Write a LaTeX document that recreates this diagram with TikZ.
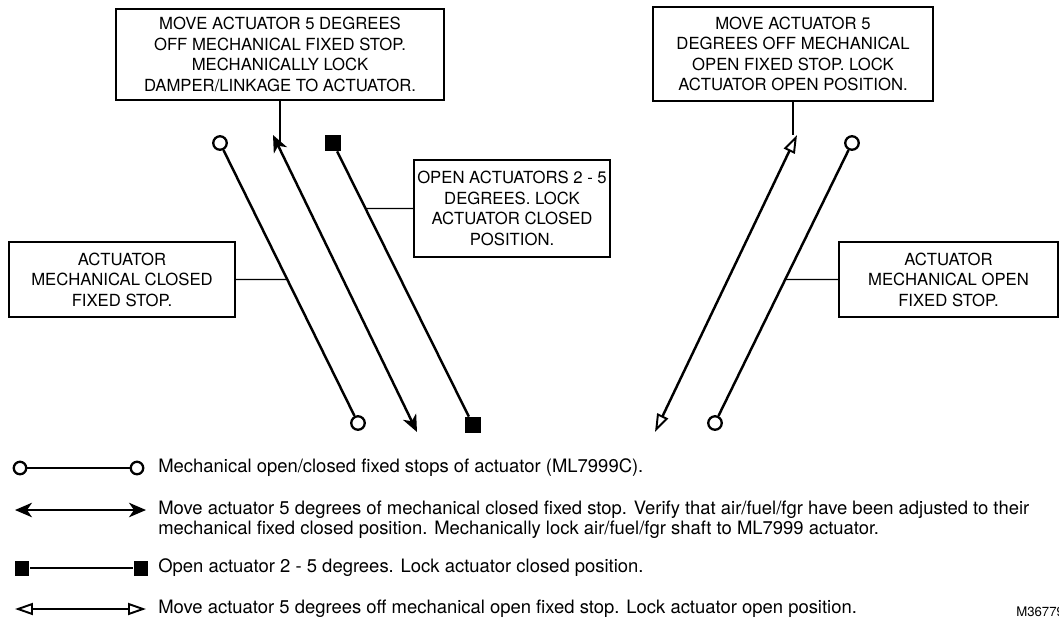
\documentclass[tikz,border=0pt]{standalone}
\usepackage{fontspec}
\setmainfont{TeX Gyre Heros}
\usetikzlibrary{arrows.meta}
\tikzset{
  note/.style={draw,line width=1.1pt,align=center,inner sep=2pt,font=\fontsize{9.5}{11.7}\selectfont},
  leader/.style={line width=0.6pt},
  stroke/.style={line width=1.4pt},
  thinstroke/.style={line width=1.1pt},
  stopc/.style={circle,draw,line width=1.3pt,fill=white,minimum size=0.27cm,inner sep=0pt},
  stops/.style={rectangle,fill=black,minimum size=0.32cm,inner sep=0pt},
  legtext/.style={anchor=west,align=left,inner sep=0pt,font=\fontsize{10.5}{11.4}\selectfont},
  fullhead/.tip={Stealth[length=0.34cm,width=0.29cm,inset=0.1cm]},
  openhead/.tip={Triangle[open,length=0.36cm,width=0.24cm,line width=1.1pt]}
}
\begin{document}
\begin{tikzpicture}[x=0.02cm,y=-0.02cm]
	\useasboundingbox (0,0) rectangle (1059,620);
	% text boxes
	\node[note,minimum width=6.56cm,minimum height=1.82cm] (tlbox) at (280,54.5) {MOVE ACTUATOR 5 DEGREES\\OFF MECHANICAL FIXED STOP.\\MECHANICALLY LOCK\\DAMPER/LINKAGE TO ACTUATOR.};
	\node[note,minimum width=5.6cm,minimum height=1.88cm] (trbox) at (793,54) {MOVE ACTUATOR 5\\DEGREES OFF MECHANICAL\\OPEN FIXED STOP. LOCK\\ACTUATOR OPEN POSITION.};
	\node[note,minimum width=4.52cm,minimum height=1.5cm] (lbox) at (122,279.5) {ACTUATOR\\MECHANICAL CLOSED\\FIXED STOP.};
	\node[note,minimum width=3.2cm,minimum height=1.94cm] (mbox) at (512,208.5) {OPEN ACTUATORS 2 - 5\\DEGREES. LOCK\\ACTUATOR CLOSED\\POSITION.};
	\node[note,minimum width=4.38cm,minimum height=1.5cm] (rbox) at (948.5,279.5) {ACTUATOR\\MECHANICAL OPEN\\FIXED STOP.};
	% stroke ends
	\node[stopc] (c1t) at (220,143) {};
	\node[stopc] (c1b) at (358,423) {};
	\coordinate (a2t) at (273,135);
	\coordinate (a2b) at (417,432);
	\node[stops] (s3t) at (333,143) {};
	\node[stops] (s3b) at (473,425) {};
	\coordinate (a4t) at (797,135);
	\coordinate (a4b) at (655,432);
	\node[stopc] (c5t) at (852,143) {};
	\node[stopc] (c5b) at (715,423) {};
	% strokes
	\draw[stroke] (c1t) -- (c1b);
	\draw[stroke,fullhead-fullhead] (a2t) -- (a2b);
	\draw[stroke] (s3t) -- (s3b);
	\draw[stroke,openhead-openhead] (a4t) -- (a4b);
	\draw[stroke] (c5t) -- (c5b);
	% leaders
	\draw[leader] (tlbox.south) -- (tlbox.south |- 0,142);
	\draw[leader] (trbox.south) -- (trbox.south |- a4t);
	\draw[leader] (lbox.east) -- (intersection of c1t--c1b and lbox.west--lbox.east);
	\draw[leader] (mbox.west) -- (intersection of s3t--s3b and mbox.west--mbox.east);
	\draw[leader] (rbox.west) -- (intersection of c5t--c5b and rbox.west--rbox.east);
	% legend
	\node[stopc,minimum size=0.25cm] (lc1) at (20,468) {};
	\node[stopc,minimum size=0.25cm] (lc2) at (137,468) {};
	\draw[thinstroke] (lc1) -- (lc2);
	\node[legtext] (t1) at (158,468) {Mechanical open/closed fixed stops of actuator (ML7999C).};
	\coordinate (la1) at (15,510);
	\coordinate (la2) at (146,510);
	\draw[thinstroke,fullhead-fullhead] (la1) -- (la2);
	\node[legtext] (t2) at (158,520) {Move actuator 5 degrees of mechanical closed fixed stop. Verify that air/fuel/fgr have been adjusted to their\\mechanical fixed closed position. Mechanically lock air/fuel/fgr shaft to ML7999 actuator.};
	\node[stops,minimum size=0.3cm] (ls1) at (22,568) {};
	\node[stops,minimum size=0.3cm] (ls2) at (141,568) {};
	\draw[thinstroke] (ls1) -- (ls2);
	\node[legtext] (t3) at (158,568) {Open actuator 2 - 5 degrees. Lock actuator closed position.};
	\coordinate (lo1) at (15,609);
	\coordinate (lo2) at (146,609);
	\draw[thinstroke,openhead-openhead] (lo1) -- (lo2);
	\node[legtext] (t4) at (158,609) {Move actuator 5 degrees off mechanical open fixed stop. Lock actuator open position.};
	\node[legtext,font=\fontsize{7.5}{9}\selectfont] (fig) at (1016,612) {M36779};
\end{tikzpicture}
\end{document}
